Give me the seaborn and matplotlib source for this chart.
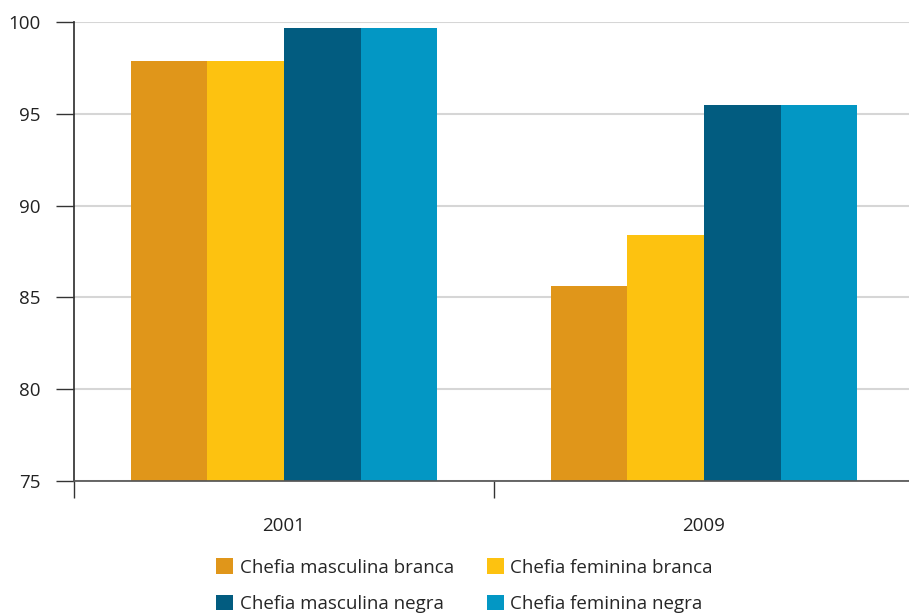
import pandas as pd
import matplotlib.pyplot as plt
import seaborn as sns
from matplotlib.ticker import FixedLocator

# Data
years = ['2001', '2009']
groups = ['Chefia masculina branca', 'Chefia feminina branca',
          'Chefia masculina negra', 'Chefia feminina negra']
masc_branca = [97.9, 85.6]
fem_branca = [97.9, 88.4]
masc_negra = [99.7, 95.5]
fem_negra = [99.7, 95.5]
colors = ['#E0961A', '#FDC210', '#025C80', '#0397C4']

rows = []
for g, vals in zip(groups, [masc_branca, fem_branca, masc_negra, fem_negra]):
    for y, v in zip(years, vals):
        rows.append({'ano': y, 'grupo': g, 'valor': v})
df = pd.DataFrame(rows)

sns.set_theme(style="white")
plt.rcParams['font.family'] = ['Open Sans', 'DejaVu Sans']

fig = plt.figure(figsize=(9.09, 6.13), dpi=100)
ax = fig.add_axes([0.0814, 0.2153, 0.924, 0.7488])

sns.barplot(data=df, x='ano', y='valor', hue='grupo', order=years,
            hue_order=groups, palette=colors, width=0.73, saturation=1,
            linewidth=0, ax=ax)

ax.set_ylim(75, 100)
ax.set_xlim(-0.5, 1.5)
ax.set_yticks([75, 80, 85, 90, 95, 100])
ax.yaxis.grid(True, color='#d6d6d6', linewidth=1.5)
ax.set_axisbelow(True)

for side in ['top', 'right']:
    ax.spines[side].set_visible(False)
ax.spines['left'].set_color('#333333')
ax.spines['bottom'].set_color('#555555')
ax.spines['left'].set_bounds(75, 100)

ax.tick_params(axis='y', which='major', direction='out', length=13,
               width=1, color='#333333', labelsize=13.5, pad=11,
               left=True, labelcolor='#222222')
ax.tick_params(axis='x', which='major', length=0, pad=26, labelsize=13.5,
               labelcolor='#222222')
ax.xaxis.set_minor_locator(FixedLocator([-0.5, 0.5]))
ax.tick_params(axis='x', which='minor', direction='out', length=12,
               width=1, color='#333333', bottom=True)

ax.set_xlabel('')
ax.set_ylabel('')

# legend reads row-wise: branca on top, negra below
handles, labels = ax.get_legend_handles_labels()
ax.legend_.remove()
order = [0, 2, 1, 3]
fig.legend([handles[i] for i in order], [labels[i] for i in order],
           ncol=2, loc='upper left', bbox_to_anchor=(0.238, 0.089),
           frameon=False, fontsize=13.5, handlelength=0.9, handleheight=0.9,
           handletextpad=0.35, columnspacing=1.75, labelspacing=0.95,
           borderaxespad=0, borderpad=0)

fig.savefig('out.png', dpi=100)
